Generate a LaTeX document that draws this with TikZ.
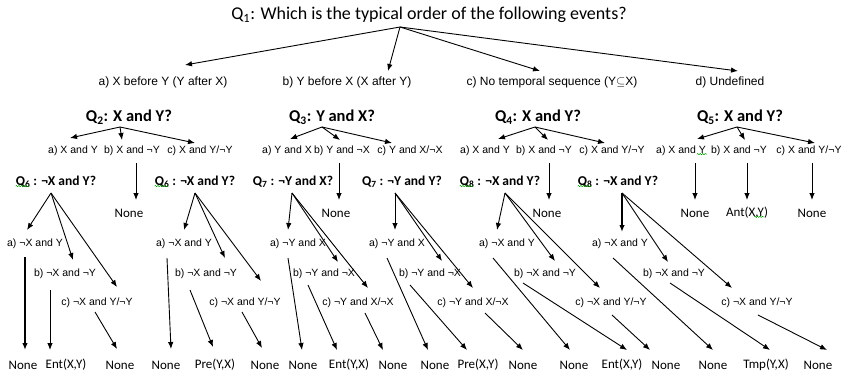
\documentclass[tikz,border=0pt]{standalone}
\usepackage{fontspec}
\setmainfont{Carlito}
\newfontfamily\labfont{Liberation Sans}
\usetikzlibrary{arrows.meta,decorations.pathmorphing}
\tikzset{
  ttl/.style={font=\fontsize{18}{20}\selectfont, inner sep=0pt},
  qtwo/.style={font=\bfseries\fontsize{16.5}{19}\selectfont, inner sep=0pt},
  qthree/.style={font=\bfseries\fontsize{13.5}{15}\selectfont, inner sep=0pt},
  lone/.style={font=\labfont\fontsize{12}{14}\selectfont, inner sep=0pt},
  ltwo/.style={font=\labfont\fontsize{10.5}{12}\selectfont, inner sep=0pt},
  res/.style={font=\fontsize{13}{15}\selectfont, inner sep=0pt},
  arr/.style={-{Latex[length=7pt,width=5.5pt]}, line width=0.9pt},
  thk/.style={-{Latex[length=7pt,width=5.5pt]}, line width=1.5pt},
  squig/.style={green!60!black, line width=0.5pt, decorate, decoration={snake, amplitude=0.6pt, segment length=2.5pt}},
}
\newcommand\lnk[4]{\coordinate (#1s) at (#2);\coordinate (#1e) at (#3);\draw[#4] (#1s) -- (#1e);}
\begin{document}
\begin{tikzpicture}[x=1pt,y=-1pt]
\useasboundingbox (0,0) rectangle (845,372);
% ---------- level 1
\node[ttl] (q1) at (429,15) {Q\textsubscript{1}: Which is the typical order of the following events?};
\coordinate (o1) at (400,27);
\node[lone] (la) at (163,82) {a) X before Y (Y after X)};
\node[lone] (lb) at (347,82) {b) Y before X (X after Y)};
\node[lone] (lc) at (552,82) {c) No temporal sequence (Y$\subseteq$X)};
\node[lone] (ld) at (730,82) {d) Undefined};
\coordinate (ta) at (185,65);
\coordinate (tb) at (388,71);
\coordinate (tc) at (540,71);
\coordinate (td) at (738,71);
\foreach \t in {ta,tb,tc,td} \draw[arr] (o1) -- (\t);
% ---------- level 2
\node[qtwo] (q2) at (129,117) {Q\textsubscript{2}: X and Y?};
\node[qtwo] (q3) at (332,117) {Q\textsubscript{3}: Y and X?};
\node[qtwo] (q4) at (538,117) {Q\textsubscript{4}: X and Y?};
\node[qtwo] (q5) at (740,117) {Q\textsubscript{5}: X and Y?};
\coordinate (o2) at (120,127);
\coordinate (o3) at (322,127);
\coordinate (o4) at (535,127);
\coordinate (o5) at (737,127);
% labels
\node[ltwo] (q2a) at (73,151) {a) X and Y};
\node[ltwo] (q2b) at (132,151) {b) X and ¬Y};
\node[ltwo] (q2c) at (200,151) {c) X and Y/¬Y};
\node[ltwo] (q3a) at (287,151) {a) Y and X};
\node[ltwo] (q3b) at (342,151) {b) Y and ¬X};
\node[ltwo] (q3c) at (410,151) {c) Y and X/¬X};
\node[ltwo] (q4a) at (485,151) {a) X and Y};
\node[ltwo] (q4b) at (544,151) {b) X and ¬Y};
\node[ltwo] (q4c) at (612,151) {c) X and Y/¬Y};
\node[ltwo] (q5a) at (681,151) {a) X and Y};
\node[ltwo] (q5b) at (739,151) {b) X and ¬Y};
\node[ltwo] (q5c) at (809,151) {c) X and Y/¬Y};
% arrows to level-2 labels
\coordinate (t2a) at (70,138);  \coordinate (t2b) at (122,140); \coordinate (t2c) at (195,143);
\coordinate (t3a) at (290,139); \coordinate (t3b) at (340,140); \coordinate (t3c) at (392,143);
\coordinate (t4a) at (498,139); \coordinate (t4b) at (548,140); \coordinate (t4c) at (605,143);
\coordinate (t5a) at (697,139); \coordinate (t5b) at (745,140); \coordinate (t5c) at (815,143);
\foreach \q in {2,3,4,5}{\foreach \s in {a,b,c}{\draw[arr] (o\q) -- (t\q\s);}}
% down arrows to None / Ant
\node[res] (n2) at (129,213) {None};
\node[res] (n3) at (336,213) {None};
\node[res] (n4) at (547,213) {None};
\node[res] (n5a) at (695,213) {None};
\node[res] (n5b) at (747,213) {Ant(X,Y)};
\node[res] (n5c) at (812,213) {None};
\lnk{d2}{136,163}{136,200}{arr}
\lnk{d3}{339,163}{339,200}{arr}
\lnk{d4}{549,163}{549,200}{arr}
\lnk{d5a}{695,163}{695,200}{arr}
\lnk{d5b}{747,163}{747,200}{arr}
\lnk{d5c}{812,163}{812,200}{arr}
% ---------- level 3
\node[qthree] (g1) at (56,182) {Q\textsubscript{6} : ¬X and Y?};
\node[qthree] (g2) at (195,182) {Q\textsubscript{6} : ¬X and Y?};
\node[qthree] (g3) at (293,182) {Q\textsubscript{7} : ¬Y and X?};
\node[qthree] (g4) at (402,182) {Q\textsubscript{7} : ¬Y and Y?};
\node[qthree] (g5) at (500,182) {Q\textsubscript{8} : ¬X and Y?};
\node[qthree] (g6) at (618,182) {Q\textsubscript{8} : ¬X and Y?};
\coordinate (og1) at (51,193);
\coordinate (og2) at (195,193);
\coordinate (og3) at (292,193);
\coordinate (og4) at (395,193);
\coordinate (og5) at (505,193);
\coordinate (og6) at (622,193);
% spell-check underlines
\draw[squig] ([yshift=2pt]g1.south west) -- ++(14,0);
\draw[squig] ([yshift=2pt]g2.south west) -- ++(14,0);
\draw[squig] ([yshift=2pt]g5.south west) -- ++(14,0);
\draw[squig] ([yshift=2pt]g6.south west) -- ++(14,0);
\draw[squig] ([xshift=-9pt,yshift=2pt]q5a.south east) -- ++(10,0);
\draw[squig] ([xshift=-14pt,yshift=2pt]n5b.south east) -- ++(10,0);
% level-3 labels
\node[ltwo] (g1a) at (35,244) {a) ¬X and Y};
\node[ltwo] (g1b) at (65,274) {b) ¬X and ¬Y};
\node[ltwo] (g1c) at (97,303) {c) ¬X and Y/¬Y};
\node[ltwo] (g2a) at (184,244) {a) ¬X and Y};
\node[ltwo] (g2b) at (206,274) {b) ¬X and ¬Y};
\node[ltwo] (g2c) at (245,303) {c) ¬X and Y/¬Y};
\node[ltwo] (g3a) at (298,244) {a) ¬Y and X};
\node[ltwo] (g3b) at (324,274) {b) ¬Y and ¬X};
\node[ltwo] (g3c) at (358,303) {c) ¬Y and X/¬X};
\node[ltwo] (g4a) at (397,244) {a) ¬Y and X};
\node[ltwo] (g4b) at (430,274) {b) ¬Y and ¬X};
\node[ltwo] (g4c) at (473,303) {c) ¬Y and X/¬X};
\node[ltwo] (g5a) at (507,244) {a) ¬X and Y};
\node[ltwo] (g5b) at (545,274) {b) ¬X and ¬Y};
\node[ltwo] (g5c) at (611,303) {c) ¬X and Y/¬Y};
\node[ltwo] (g6a) at (620,244) {a) ¬X and Y};
\node[ltwo] (g6b) at (674,274) {b) ¬X and ¬Y};
\node[ltwo] (g6c) at (757,303) {c) ¬X and Y/¬Y};
% arrows from level-3 questions
\coordinate (u1a) at (27,230);  \coordinate (u1b) at (73,260);  \coordinate (u1c) at (117,287);
\coordinate (u2a) at (184,230); \coordinate (u2b) at (225,258); \coordinate (u2c) at (261,281);
\coordinate (u3a) at (288,230); \coordinate (u3b) at (338,262); \coordinate (u3c) at (368,288);
\coordinate (u4a) at (395,230); \coordinate (u4b) at (442,261); \coordinate (u4c) at (473,288);
\coordinate (u5a) at (497,230); \coordinate (u5b) at (555,261); \coordinate (u5c) at (600,288);
\coordinate (u6a) at (622,232); \coordinate (u6b) at (668,262); \coordinate (u6c) at (732,288);
\foreach \g in {1,...,5}{\foreach \s in {a,b,c}{\draw[arr] (og\g) -- (u\g\s);}}
\draw[thk] (og6) -- (u6a);
\foreach \s in {b,c}{\draw[arr] (og6) -- (u6\s);}
% bottom results
\node[res] (r1a) at (23,365) {None};
\node[res] (r1b) at (66,365) {Ent(X,Y)};
\node[res] (r1c) at (120,365) {None};
\node[res] (r2a) at (166,365) {None};
\node[res] (r2b) at (215,365) {Pre(Y,X)};
\node[res] (r2c) at (265,365) {None};
\node[res] (r3a) at (303,365) {None};
\node[res] (r3b) at (349,365) {Ent(Y,X)};
\node[res] (r3c) at (393,365) {None};
\node[res] (r4a) at (435,365) {None};
\node[res] (r4b) at (478,365) {Pre(X,Y)};
\node[res] (r4c) at (523,365) {None};
\node[res] (r5a) at (574,365) {None};
\node[res] (r5b) at (622,365) {Ent(X,Y)};
\node[res] (r5c) at (666,365) {None};
\node[res] (r6a) at (713,365) {None};
\node[res] (r6b) at (766,365) {Tmp(Y,X)};
\node[res] (r6c) at (818,365) {None};
% lines from level-3 labels to results
\lnk{v1a}{25,257}{25,350}{thk}
\lnk{v1b}{50,290}{50,350}{arr}
\lnk{v1c}{95,312}{117,349}{arr}
\lnk{v2a}{167,258}{171,349}{arr}
\lnk{v2b}{190,290}{213,347}{arr}
\lnk{v2c}{242,312}{262,348}{arr}
\lnk{v3a}{288,258}{302,350}{arr}
\lnk{v3b}{308,285}{337,350}{arr}
\lnk{v3c}{365,313}{383,350}{arr}
\lnk{v4a}{387,258}{428,350}{arr}
\lnk{v4b}{410,285}{467,350}{arr}
\lnk{v4c}{485,313}{523,350}{arr}
\lnk{v5a}{493,258}{570,350}{arr}
\lnk{v5b}{523,283}{627,350}{arr}
\lnk{v5c}{612,315}{650,350}{arr}
\lnk{v6a}{613,258}{713,350}{arr}
\lnk{v6b}{670,283}{770,350}{arr}
\lnk{v6c}{758,315}{827,350}{arr}
\end{tikzpicture}
\end{document}
